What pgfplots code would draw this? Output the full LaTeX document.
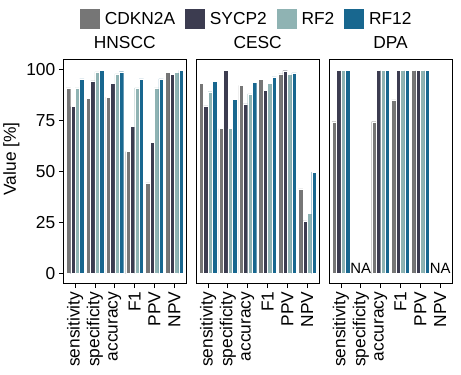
\documentclass[border=0pt]{standalone}
\usepackage{fontspec}
\setmainfont{Liberation Sans}
\usepackage{pgfplots}
\pgfplotsset{compat=1.18}
\usepgfplotslibrary{groupplots}
\definecolor{cCDK}{HTML}{767676}
\definecolor{cSYC}{HTML}{3C3C50}
\definecolor{cRF2}{HTML}{8FB3B3}
\definecolor{cRF12}{HTML}{18678F}
\newcommand{\bigf}{\fontsize{17.5}{20}\selectfont}
\begin{document}
\begin{tikzpicture}
\pgfplotsset{
  panel/.style={
    scale only axis, width=124pt, height=226pt,
    xmin=-0.6, xmax=5.6, ymin=-5, ymax=105,
    ybar=0pt, bar width=0.225,
    xtick={0,1,2,3,4,5},
    xticklabels={sensitivity,specificity,accuracy,F1,PPV,NPV},
    xticklabel style={rotate=90, anchor=east, font=\bigf},
    yticklabel style={font=\bigf},
    /pgf/number format/assume math mode=true,
    tick align=outside, xtick pos=bottom, ytick pos=left,
    major tick length=4.5pt,
    tick style={black, line width=0.8pt},
    axis line style={black, line width=0.8pt},
    title style={font=\bigf, anchor=base, at={(0.5,1)}, yshift=5pt},
    label style={font=\bigf},
    every axis plot/.append style={draw=white, line width=0.3pt},
    legend image code/.code={\fill[#1, draw=none] (0pt,-10pt) rectangle (20pt,10pt);},
  },
}
\begin{groupplot}[group style={group size=3 by 1, horizontal sep=10pt}, panel]
\nextgroupplot[title=HNSCC, ylabel={Value [\%]}, ytick={0,25,50,75,100},
  ylabel style={at={(ticklabel cs:0.557)}}]
\addplot[fill=cCDK] coordinates {(0,91.1) (1,86.0) (2,86.6) (3,59.8) (4,44.5) (5,98.7)};
\addplot[fill=cSYC] coordinates {(0,81.9) (1,94.5) (2,93.2) (3,72.3) (4,64.4) (5,97.7)};
\addplot[fill=cRF2] coordinates {(0,91.1) (1,98.9) (2,98.0) (3,91.1) (4,91.1) (5,98.7)};
\addplot[fill=cRF12] coordinates {(0,95.5) (1,99.7) (2,99.0) (3,95.5) (4,95.5) (5,99.7)};
\nextgroupplot[title=CESC, ytick=\empty,
  legend columns=4,
  legend style={draw=none, fill=none, font=\bigf, at={(0.5,1)}, anchor=center, xshift=-12pt, yshift=41pt,
    nodes={inner xsep=0pt},
    /tikz/every odd column/.append style={column sep=5pt},
    /tikz/every even column/.append style={column sep=10pt}}]
\addplot[fill=cCDK] coordinates {(0,93.4) (1,71.1) (2,92.3) (3,95.3) (4,97.9) (5,41.5)};
\addplot[fill=cSYC] coordinates {(0,82.3) (1,99.7) (2,83.2) (3,90.0) (4,99.5) (5,25.8)};
\addplot[fill=cRF2] coordinates {(0,89.2) (1,71.1) (2,88.1) (3,93.2) (4,97.6) (5,29.5)};
\addplot[fill=cRF12] coordinates {(0,94.4) (1,85.5) (2,93.9) (3,96.5) (4,98.5) (5,49.8)};
\legend{CDKN2A,SYCP2,RF2,RF12}
\nextgroupplot[title=DPA, ytick=\empty]
\addplot[fill=cCDK] coordinates {(0,74.5) (2,74.5) (3,85.2) (4,99.7)};
\addplot[fill=cSYC] coordinates {(0,99.7) (2,99.7) (3,99.7) (4,99.7)};
\addplot[fill=cRF2] coordinates {(0,99.7) (2,99.7) (3,99.7) (4,99.7)};
\addplot[fill=cRF12] coordinates {(0,99.7) (2,99.7) (3,99.7) (4,99.7)};
\node[anchor=south, inner sep=0pt, font=\fontsize{15}{18}\selectfont] at (axis cs:1,0) {NA};
\node[anchor=south, inner sep=0pt, font=\fontsize{15}{18}\selectfont] at (axis cs:5,0) {NA};
\end{groupplot}
\path (group c1r1.south west) ++(-60pt,-92pt);
\path (group c3r1.north east) ++(9pt,60pt);
\end{tikzpicture}
\end{document}
